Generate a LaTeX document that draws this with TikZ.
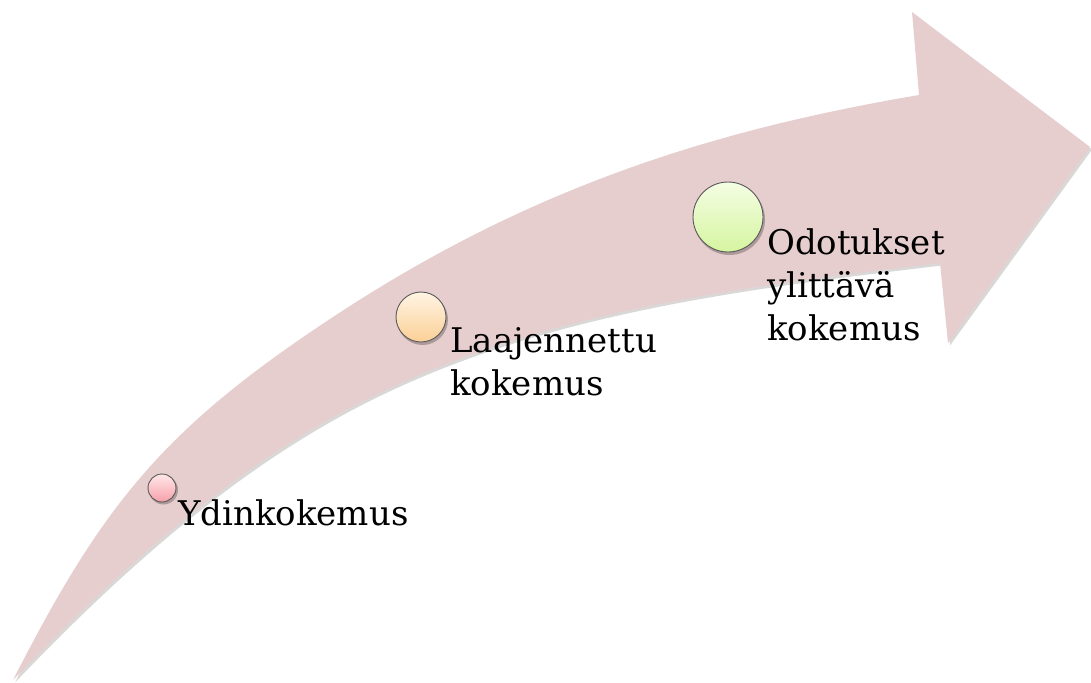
\documentclass[tikz,border=0pt]{standalone}
\usepackage{fontspec}
\setmainfont{DejaVu Serif}
\definecolor{arrowfill}{RGB}{230,206,207}
\definecolor{shadowc}{RGB}{150,140,140}
\tikzset{
  dot/.style={circle, draw=black!65, line width=0.9pt, inner sep=0pt, minimum size=#1},
  redfill/.style={top color={rgb,255:red,255;green,232;blue,234}, bottom color={rgb,255:red,246;green,160;blue,168}},
  orangefill/.style={top color={rgb,255:red,255;green,244;blue,228}, bottom color={rgb,255:red,251;green,208;blue,150}},
  greenfill/.style={top color={rgb,255:red,244;green,253;blue,228}, bottom color={rgb,255:red,214;green,245;blue,160}},
  lbl/.style={anchor=base west, inner sep=0pt, align=left, font=\fontsize{34}{43}\selectfont},
}
\begin{document}
\begin{tikzpicture}[x=1pt,y={(0pt,-1pt)}]
\useasboundingbox (0,0) rectangle (1091,682);
\def\arrowpath{
  (13,680) .. controls (103,504) and (163,429) .. (333,317)
  .. controls (533,185) and (719,129) .. (919,95)
  -- (912,12) -- (1090,147) -- (948,343) -- (940,263)
  .. controls (720,289) and (513,316) .. (333,417)
  .. controls (223,479) and (123,565) .. (13,680)
  -- cycle}
% shadow
\begin{scope}[shift={(2,2.5)}]
  \fill[shadowc, opacity=0.35] \arrowpath;
\end{scope}
\fill[arrowfill] \arrowpath;
% dots with shadows
\fill[black, opacity=0.25] (163.5,490) circle (14.5);
\fill[black, opacity=0.25] (422.5,319.5) circle (25.5);
\fill[black, opacity=0.25] (729.5,219.5) circle (35.5);
\node[dot=28pt, redfill] (d1) at (162,488) {};
\node[dot=50pt, orangefill] (d2) at (421,317) {};
\node[dot=70pt, greenfill] (d3) at (728,217) {};
% labels (base anchor = baseline of the last line)
\node[lbl] (t1) at (178,525) {Ydinkokemus};
\node[lbl] (t2) at (450,395) {Laajennettu\\kokemus};
\node[lbl] (t3) at (767,340) {Odotukset\\ylittävä\\kokemus};
\end{tikzpicture}
\end{document}
